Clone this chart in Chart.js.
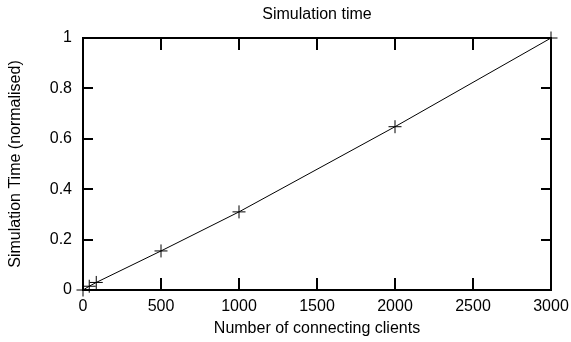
<!DOCTYPE html>
<html>
<head>
<meta charset="utf-8">
<script src="https://cdn.jsdelivr.net/npm/chart.js@4"></script>
<style>
  html, body { margin: 0; padding: 0; background: #fff; }
  #wrap { width: 571px; height: 342px; }
</style>
</head>
<body>
<div id="wrap"><canvas id="simChart" width="571" height="342"></canvas></div>
<script>
// --- data ---
const clients = [0, 40, 85, 500, 1000, 2000, 3000];
const simTime = [0, 0.015, 0.03, 0.155, 0.31, 0.648, 1.0];
const xTicks = [0, 500, 1000, 1500, 2000, 2500, 3000];
const yTicks = [0, 0.2, 0.4, 0.6, 0.8, 1];

const FONT = { family: '"Liberation Sans", Arial, sans-serif', size: 16 };

// gnuplot-style frame with inward ticks on all four sides
const framePlugin = {
  id: 'frame',
  afterDatasetsDraw(chart) {
    const { ctx, chartArea: a, scales } = chart;
    ctx.save();
    ctx.strokeStyle = '#000';
    ctx.lineWidth = 2;
    ctx.beginPath();
    xTicks.forEach(v => {
      const px = Math.round(scales.x.getPixelForValue(v));
      ctx.moveTo(px, a.bottom); ctx.lineTo(px, a.bottom - 12);
      ctx.moveTo(px, a.top); ctx.lineTo(px, a.top + 12);
    });
    yTicks.forEach(v => {
      const py = Math.round(scales.y.getPixelForValue(v));
      ctx.moveTo(a.left, py); ctx.lineTo(a.left + 10, py);
      ctx.moveTo(a.right, py); ctx.lineTo(a.right - 10, py);
    });
    ctx.stroke();
    ctx.strokeRect(a.left, a.top, a.right - a.left, a.bottom - a.top);
    ctx.restore();
  }
};

document.addEventListener('DOMContentLoaded', function () {
  const ctx = document.getElementById('simChart').getContext('2d');

  new Chart(ctx, {
    type: 'line',
    data: {
      datasets: [{
        label: 'Simulation time',
        data: clients.map((c, i) => ({ x: c, y: simTime[i] })),
        borderColor: '#000',
        backgroundColor: '#000',
        borderWidth: 1,
        pointStyle: 'cross',
        pointRadius: 6.5,
        pointBorderWidth: 1,
        pointBorderColor: '#000',
        tension: 0,
        clip: false
      }]
    },
    options: {
      responsive: false,
      animation: false,
      layout: { padding: { left: 0, right: 20, top: 0, bottom: 0 } },
      plugins: {
        legend: { display: false },
        tooltip: { enabled: false },
        title: {
          display: true,
          fullSize: false,
          text: 'Simulation time',
          color: '#000',
          font: { family: FONT.family, size: 16, weight: 'normal' },
          padding: { top: 5, bottom: 13.8 }
        }
      },
      scales: {
        x: {
          type: 'linear',
          min: 0, max: 3000,
          afterBuildTicks: s => { s.ticks = xTicks.map(v => ({ value: v })); },
          afterFit: s => { s.height = 52; s.paddingLeft = 0; s.paddingRight = 0; },
          grid: { display: false, drawTicks: false },
          border: { display: false },
          ticks: { color: '#000', font: FONT, padding: 7, maxRotation: 0, callback: v => String(v) },
          title: { display: true, text: 'Number of connecting clients', color: '#000', font: FONT, padding: { top: 2, bottom: 4 } }
        },
        y: {
          type: 'linear',
          min: 0, max: 1,
          afterBuildTicks: s => { s.ticks = yTicks.map(v => ({ value: v })); },
          afterFit: s => { s.width = 83; },
          grid: { display: false, drawTicks: false },
          border: { display: false },
          ticks: { color: '#000', font: FONT, padding: 11, callback: v => String(+v.toFixed(1)) },
          title: { display: true, text: 'Simulation Time (normalised)', color: '#000', font: FONT, padding: { top: 5.5, bottom: 4 } }
        }
      }
    },
    plugins: [framePlugin]
  });
});
</script>
</body>
</html>
